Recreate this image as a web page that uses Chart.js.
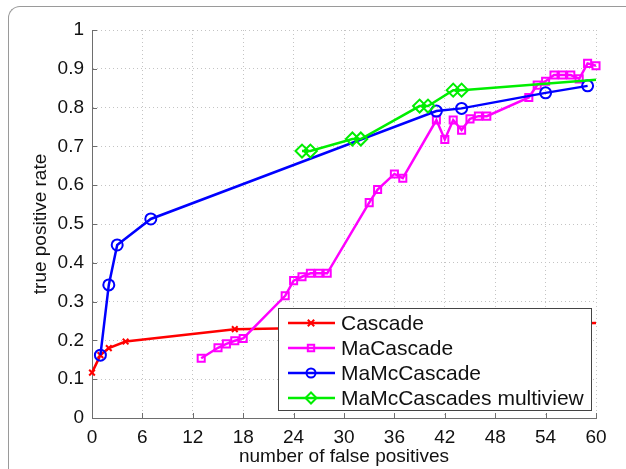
<!DOCTYPE html>
<html>
<head>
<meta charset="utf-8">
<script src="https://cdn.jsdelivr.net/npm/chart.js@4/dist/chart.umd.min.js"></script>
<style>
  html, body { margin: 0; padding: 0; background: #fff; overflow: hidden; }
  #frame { position: absolute; left: 8px; top: 6px; width: 700px; height: 600px;
           border-top: 1.5px solid #9a9a9a; border-left: 1.5px solid #9a9a9a;
           border-top-left-radius: 12px; }
  #chart { position: absolute; left: 0; top: 0; }
</style>
</head>
<body>
<div id="frame"></div>
<canvas id="chart" width="626" height="469"></canvas>
<script>
// series
const seriesNames = ['Cascade', 'MaCascade', 'MaMcCascade', 'MaMcCascades multiview'];

const cascadeX = [0, 1, 2, 4, 17, 60];
const cascadeY = [0.117, 0.162, 0.18, 0.197, 0.229, 0.245];

const maCascadeX = [13, 15, 16, 17, 18, 23, 24, 25, 26, 27, 28, 33, 34, 36, 37, 41, 42, 43, 44, 45, 46, 47, 52, 53, 54, 55, 56, 57, 58, 59, 60];
const maCascadeY = [0.154, 0.181, 0.191, 0.199, 0.205, 0.315, 0.354, 0.364, 0.373, 0.373, 0.373, 0.555, 0.589, 0.629, 0.618, 0.768, 0.718, 0.768, 0.742, 0.771, 0.778, 0.778, 0.826, 0.858, 0.868, 0.884, 0.884, 0.884, 0.874, 0.914, 0.908];

const maMcCascadeX = [1, 2, 3, 7, 41, 44, 54, 59];
const maMcCascadeY = [0.162, 0.343, 0.446, 0.513, 0.791, 0.798, 0.838, 0.856];

const multiviewX = [25, 26, 31, 32, 39, 40, 43, 44, 60];
const multiviewY = [0.688, 0.688, 0.719, 0.719, 0.804, 0.804, 0.845, 0.845, 0.872];

const xTicks = [0, 6, 12, 18, 24, 30, 36, 42, 48, 54, 60];
const yTicks = [0, 0.1, 0.2, 0.3, 0.4, 0.5, 0.6, 0.7, 0.8, 0.9, 1];

const FONT = '"Liberation Sans", Arial, Helvetica, sans-serif';

function pts(xs, ys) {
    return xs.map((x, i) => ({ x: x, y: ys[i] }));
}

// markerAtEdge: whether the point sitting on the right axis limit keeps its marker
function series(label, xs, ys, color, style, radius, order, markerAtEdge) {
    return {
        label: label,
        data: pts(xs, ys),
        borderColor: color,
        backgroundColor: 'rgba(0,0,0,0)',
        borderWidth: 2.5,
        pointStyle: style,
        pointRadius: c => (!markerAtEdge && c.parsed && c.parsed.x >= 60) ? 0 : radius,
        pointBorderWidth: 2,
        pointBorderColor: color,
        pointBackgroundColor: 'rgba(0,0,0,0)',
        tension: 0,
        clip: false,
        order: order
    };
}

// MATLAB style ticks pointing inwards
const innerTicks = {
    id: 'innerTicks',
    afterDraw(chart) {
        const ctx = chart.ctx;
        const xs = chart.scales.x, ys = chart.scales.y;
        const a = chart.chartArea;
        ctx.save();
        ctx.strokeStyle = '#6e6e6e';
        ctx.lineWidth = 1;
        ctx.beginPath();
        xTicks.forEach(v => {
            const px = Math.round(xs.getPixelForValue(v)) + 0.5;
            ctx.moveTo(px, a.bottom);
            ctx.lineTo(px, a.bottom - 5);
        });
        yTicks.forEach(v => {
            const py = Math.round(ys.getPixelForValue(v)) + 0.5;
            ctx.moveTo(a.left, py);
            ctx.lineTo(a.left + 5, py);
        });
        ctx.stroke();
        ctx.restore();
    }
};

// legend box drawn inside the plot, lower right
const boxLegend = {
    id: 'boxLegend',
    afterDraw(chart) {
        const ctx = chart.ctx;
        const left = 278, top = 308, width = 313, height = 102;
        ctx.save();
        ctx.fillStyle = '#fff';
        ctx.fillRect(left, top, width, height);
        ctx.strokeStyle = '#444';
        ctx.lineWidth = 1;
        ctx.strokeRect(left + 0.5, top + 0.5, width, height);
        chart.data.datasets.forEach((ds, i) => {
            const y = 323 + i * 25;
            ctx.strokeStyle = ds.borderColor;
            ctx.fillStyle = 'rgba(0,0,0,0)';
            ctx.lineWidth = 2.5;
            ctx.beginPath();
            ctx.moveTo(288, y);
            ctx.lineTo(335, y);
            ctx.stroke();
            ctx.lineWidth = 2;
            if (Chart.helpers && Chart.helpers.drawPoint) {
                Chart.helpers.drawPoint(ctx, { pointStyle: ds.pointStyle, radius: ds.pointStyle === 'rectRot' ? 5.5 : 4.5, rotation: 0, borderWidth: 2 }, 311, y);
            }
            ctx.fillStyle = '#111';
            ctx.font = '21px ' + FONT;
            ctx.textBaseline = 'middle';
            ctx.textAlign = 'left';
            ctx.fillText(ds.label, 341, y + 1);
        });
        ctx.restore();
    }
};

new Chart(document.getElementById('chart').getContext('2d'), {
    type: 'line',
    data: {
        datasets: [
            series(seriesNames[0], cascadeX, cascadeY, '#ff0000', 'crossRot', 4, 4, false),
            series(seriesNames[1], maCascadeX, maCascadeY, '#ff00ff', 'rect', 5, 3, true),
            series(seriesNames[2], maMcCascadeX, maMcCascadeY, '#0000ff', 'circle', 5.5, 2, true),
            series(seriesNames[3], multiviewX, multiviewY, '#00ee00', 'rectRot', 6.5, 1, false)
        ]
    },
    options: {
        responsive: false,
        animation: false,
        devicePixelRatio: 1,
        layout: { padding: { left: 0, top: 30, right: 30, bottom: 0 } },
        plugins: {
            legend: { display: false },
            tooltip: { enabled: false }
        },
        scales: {
            x: {
                type: 'linear',
                min: 0,
                max: 60,
                afterBuildTicks: s => { s.ticks = xTicks.map(v => ({ value: v })); },
                afterFit: s => { s.height = 51; },
                grid: { color: '#c4c4c4', drawTicks: false, lineWidth: 1 },
                border: { display: true, color: '#6e6e6e', width: 1, dash: [1, 3] },
                ticks: { color: '#111', padding: 8, maxRotation: 0, font: { family: FONT, size: 19 } },
                title: {
                    display: true,
                    text: 'number of false positives',
                    color: '#111',
                    font: { family: FONT, size: 19 },
                    padding: { top: 0, bottom: 1 }
                }
            },
            y: {
                type: 'linear',
                min: 0,
                max: 1,
                afterBuildTicks: s => { s.ticks = yTicks.map(v => ({ value: v })); },
                afterFit: s => { s.width = 92; },
                grid: { color: '#c4c4c4', drawTicks: false, lineWidth: 1 },
                border: { display: true, color: '#6e6e6e', width: 1, dash: [1, 3] },
                ticks: {
                    color: '#111',
                    padding: 8,
                    font: { family: FONT, size: 19 },
                    callback: v => String(Number(v.toFixed(1)))
                },
                title: {
                    display: true,
                    text: 'true positive rate',
                    color: '#111',
                    font: { family: FONT, size: 19 },
                    padding: { top: 29, bottom: 0 }
                }
            }
        }
    },
    plugins: [innerTicks, boxLegend]
});
</script>
</body>
</html>
